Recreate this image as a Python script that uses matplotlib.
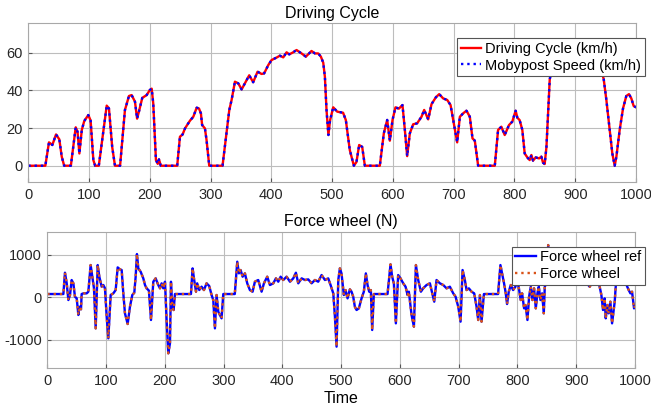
import matplotlib
matplotlib.use('Agg')
from matplotlib import pyplot as plt

plt.rcParams['font.family'] = ['Liberation Sans', 'DejaVu Sans']
plt.rcParams['axes.unicode_minus'] = False

# driving cycle speed (km/h)
cycle_t = [0, 28, 34, 39.5, 45.6, 51, 55, 59, 70, 78, 81, 84, 88, 92, 98.7, 102.5, 107, 110, 116,
           129, 132.7, 138, 142.6, 151, 159, 165.6, 170, 175.5, 179, 182, 187.5, 194.7, 200, 203,
           205.6, 210, 213, 215, 218, 245, 249.5, 253.9, 257.8, 266, 271.5, 277, 280.8, 284, 286,
           290.6, 293.3, 297.7, 319.6, 326, 330.7, 334.5, 340, 345.5, 351, 356.4, 363.5, 370, 377.2,
           383.8, 388, 395, 400.3, 408.5, 414, 419.5, 425, 429.3, 434.8, 441.4, 449.6, 456.7, 466,
           471.6, 477, 481.4, 485.3, 488, 490.7, 493.8, 496.5, 501.7, 508.3, 518, 522.5, 529, 535.7,
           540, 544.4, 549.4, 553.8, 578.4, 585, 590.5, 594.9, 599.3, 604.2, 609.7, 615.7, 619.6,
           623.4, 627.8, 633.3, 639.8, 647, 651.4, 658, 663.5, 670.6, 676.1, 682.7, 689.3, 694.8,
           700.2, 705.7, 710.1, 715.5, 721, 726.5, 730.9, 734.7, 740.2, 767.6, 773, 778.4, 783.9,
           791, 796.4, 801.9, 804.7, 808.5, 812.9, 816.8, 821.2, 825, 827.8, 830.5, 834.9, 840.4,
           844.2, 847, 849.7, 852.6, 858, 865, 875, 890, 905, 920, 935, 946.8, 951.2, 956.7, 961,
           964.9, 967.7, 973.1, 978.6, 984, 988.4, 992.3, 996.1, 1000]
cycle_v = [0, 0, 12.4, 11, 16.6, 14, 4.8, 0, 0, 20.4, 18, 6.5, 19, 23.7, 26.9, 24, 3, 0, 0,
           31.9, 30.4, 10, 0, 0, 29.6, 37, 37.5, 34, 25, 28.7, 36, 37.5, 40.2, 40.9,
           33, 3, 1, 3.4, 0, 0, 15.4, 16.6, 19.8, 23.9, 26, 30.8, 30.4, 27.8, 21.6,
           19.8, 13.6, 0, 0, 17.2, 29.6, 34.9, 44.6, 43.7, 40.5, 43.7, 48, 44.3, 49.9,
           48.7, 49, 53.5, 56.1, 57.4, 58.4, 57.5, 60.2, 59.1, 60, 61.4, 59.6, 57.9, 60.9,
           59.6, 59.6, 57.9, 54.7, 47.3, 29.6, 16.3, 24, 31, 28.7, 28.1, 24.2, 8.3, 0,
           2, 11, 10, 0, 0, 17.2, 24.3, 13.3, 24.3, 31, 30.3, 32.2, 19,
           5.1, 17.2, 22, 22.5, 26, 29.6, 24.6, 32.7, 36.3, 38, 35.7, 34.9, 32.2,
           22.5, 12.4, 26, 27.8, 29.2, 26, 14.5, 13.3, 0, 0, 19, 20.7, 16.3,
           21.6, 23.4, 29.2, 25.5, 24.2, 19, 6.5, 4.4, 3, 5.7, 2.7, 4.4, 3.9,
           4.8, 1.6, 0.9, 10, 45.8, 58, 64, 66, 63, 65, 60, 46, 34.9, 19, 6.5,
           0, 4.8, 19, 30.4, 37, 38, 35.7, 31.7, 31]
# vehicle speed follows the cycle exactly on the picture
moby_v = list(cycle_v)

# wheel force (N)
force_t = [0, 27.3, 30, 33, 35.8, 38.6, 41.4, 44.3, 47, 50, 52.8, 54.5, 57.3, 58.4, 61.3, 67, 69.8,
           73.7, 76.6, 79.4, 82.3, 85.7, 88.5, 92.5, 95.3, 98.1, 101, 103.8, 107.8, 112.3, 116.3,
           119.7, 123.6, 126.5, 129.3, 132.1, 136.7, 140.6, 144.6, 148, 150.3, 152.5, 154.8, 158.8,
           163.3, 166.2, 169, 172.9, 176.4, 180.3, 184.3, 188.8, 191.7, 194.5, 197.3, 200.2, 203,
           205.8, 208.7, 210.4, 212.6, 214.9, 217.2, 244.4, 247.2, 249.5, 253, 255, 258.6, 262.5,
           266.5, 271, 275.5, 279.5, 282.4, 285.2, 288, 290.9, 293.7, 296.5, 299.4, 319, 323.2, 326,
           328.9, 332.3, 336.2, 340.2, 344.7, 349.3, 353.2, 358.9, 364.6, 368.6, 374.2, 378.8, 384.5,
           389, 393, 397, 401.5, 407.2, 412.9, 418.5, 423, 427, 432.7, 438.4, 444, 449.7, 455.4, 461,
           466.7, 472.4, 478, 482, 486.6, 489.4, 492.2, 495.1, 497.8, 500.6, 504.6, 507.5, 510.9,
           514.8, 517.7, 520.5, 523.3, 526.2, 530.1, 534.7, 538.6, 542, 544.9, 547.7, 550.5, 552.8,
           555.6, 578.9, 584, 586.8, 589.7, 593.1, 597, 601, 605.6, 609.6, 613, 615.2, 619.8, 623.8,
           627.2, 631.1, 635.7, 639.6, 645.3, 651, 655, 658.4, 662.3, 668, 673.7, 679.4, 685, 690.7,
           694.7, 699.2, 703.2, 706.6, 710.5, 713.4, 717.3, 721.9, 726.4, 730.4, 733.2, 736.1, 738.9,
           742.9, 767, 771, 773.8, 777.2, 780.1, 782.3, 785.2, 788.6, 792.6, 796.5, 800, 802.8,
           805.6, 807.9, 811.3, 813.6, 817, 819.8, 822.7, 825.5, 828.3, 831.2, 834, 836.3, 839.1,
           842, 844.8, 846.5, 849.4, 852.3, 855, 860, 870, 880, 890, 900, 910, 918, 923, 928, 935,
           939.9, 942.8, 945.6, 948.4, 950.2, 953, 955.3, 958.1, 961, 963.8, 965.5, 967.2, 969.5,
           975, 980, 985.3, 989.3, 992.2, 995, 998.4, 1000]
force_ref = [78, 78, 580, 330, -63, 55, 408, 330, 16, -24, -415, -220, -282, 78, 94, 94, 133,
             760, 486, 212, -730, 760, 486, 251, 290, 212, -455, -964, 55, 94, 172,
             705, 658, 643, 94, -376, -627, -220, 55, 110, 486, 1019, 682, 604,
             447, 290, 212, 157, -533, 368, 447, 290, 212, 330, 212, 368, -533,
             -1317, -1082, 368, -220, -298, 78, 78, 682, 447, 133, 330, 172, 251,
             172, 330, 267, 55, -63, -730, 55, -337, -415, -494, 78, 78, 839, 564,
             643, 486, 564, 330, 172, 133, 368, 408, 133, 330, 486, 290, 330,
             447, 368, 486, 408, 486, 368, 447, 580, 330, 447, 408, 423, 330, 408, 368,
             525, 408, 447, 290, 94, -455, -1160, 408, 682, 564, 55, 172, -24,
             188, 133, 16, -220, -298, -259, -24, 133, 564, 290, 133, 172, -768,
             78, 78, 776, 486, 330, -612, 525, 447, 330, 251, 55, 133, -415, -690,
             760, 408, 133, 212, 290, 330, 94, -102, 408, 330, 290, 212, 251, 94,
             16, -220, -572, 643, 408, 172, 212, 133, 94, -220, -533, 55, -572,
             78, 78, 760, 564, 330, 94, -157, 133, 290, 172, 251, 420, 172,
             -63, 94, -259, -180, -533, 16, 251, -63, 212, -259, 94, 251, -63,
             94, -376, 251, 330, 1230, 700, 600, 550, 500, 450, 420, 400, 330, 250, 380, 420,
             251, 55, -298, -24, -494, -180, -376, -102, -612, -298, -102, 251, 600,
             900, 700, 300, 172, 94, 133, -259, -200]
force_meas = list(force_ref)

fig = plt.figure(figsize=(6.51, 4.15), dpi=100)
ax1 = fig.add_axes([0.0435, 0.5607, 0.9335, 0.3832])
ax2 = fig.add_axes([0.0727, 0.1125, 0.9027, 0.3292])

for ax in (ax1, ax2):
    ax.grid(True, color='#bdbdbd', linewidth=0.8)
    ax.set_axisbelow(True)
    for s in ax.spines.values():
        s.set_color('#a8a8a8')
        s.set_linewidth(0.8)
    ax.tick_params(direction='in', length=3, color='#555555', labelcolor='#262626',
                   labelsize=10.5, pad=4)
    ax.set_xlim(0, 1000)
    ax.set_xticks(range(0, 1001, 100))

# vitesse
ax1.plot(cycle_t, cycle_v, color='#ff0000', linewidth=1.7, label='Driving Cycle (km/h)')
ax1.plot(cycle_t, moby_v, color='#0000ff', linewidth=1.7, linestyle=':',
         label='Mobypost Speed (km/h)')
ax1.set_ylim(-8.8, 75.6)
ax1.set_yticks([0, 20, 40, 60])
ax1.set_title('Driving Cycle', fontsize=11.5, pad=4)
leg1 = ax1.legend(loc='upper right', bbox_to_anchor=(0.9908, 0.9084),
                  bbox_transform=fig.transFigure, fontsize=10.5, fancybox=False,
                  framealpha=1, edgecolor='#555555', handlelength=1.4,
                  handletextpad=0.3, borderpad=0.25, labelspacing=0.2, borderaxespad=0)
leg1.get_frame().set_linewidth(0.8)

# force roue
ax2.plot(force_t, force_ref, color='#0000ff', linewidth=1.7, label='Force wheel ref')
ax2.plot(force_t, force_meas, color='#d95319', linewidth=1.7, linestyle=':',
         label='Force wheel')
ax2.set_ylim(-1670, 1545)
ax2.set_yticks([-1000, 0, 1000])
ax2.set_title('Force wheel (N)', fontsize=11.5, pad=4)
ax2.set_xlabel('Time', fontsize=11.5, labelpad=2)
leg2 = ax2.legend(loc='upper right', bbox_to_anchor=(0.9908, 0.4055),
                  bbox_transform=fig.transFigure, fontsize=10.5, fancybox=False,
                  framealpha=1, edgecolor='#555555', handlelength=1.4,
                  handletextpad=0.3, borderpad=0.25, labelspacing=0.2, borderaxespad=0)
leg2.get_frame().set_linewidth(0.8)

fig.savefig('out.png', dpi=100)
